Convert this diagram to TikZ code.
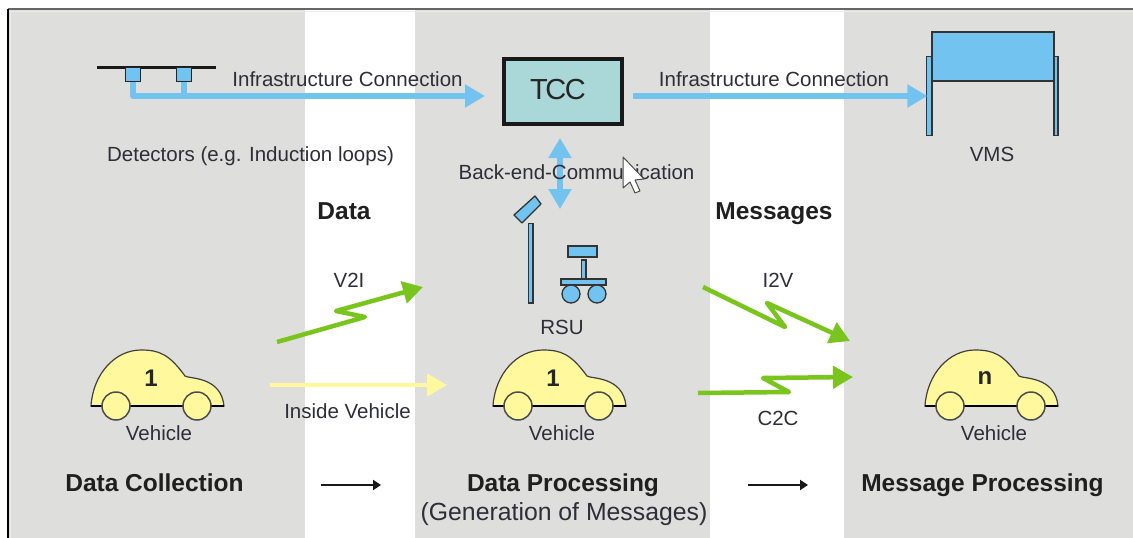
\documentclass[tikz,border=0pt]{standalone}
\usepackage{fontspec}
\setmainfont{Liberation Sans}
\usetikzlibrary{arrows.meta}
\definecolor{bandgrey}{HTML}{DEDEDD}
\definecolor{netblue}{HTML}{72C3F0}
\definecolor{radiogreen}{HTML}{7AC41E}
\definecolor{cartone}{HTML}{FFF89C}
\definecolor{tealbox}{HTML}{AAD8D8}
\definecolor{inktext}{HTML}{2E2E38}
\newcommand{\fsz}[1]{\fontsize{#1}{#1}\selectfont}
\tikzset{
  band/.style={fill=bandgrey,draw=none},
  lbl/.style={anchor=base,inner sep=0pt,outer sep=0pt,text=inktext,font=\fsz{20.5}},
  head/.style={anchor=base,inner sep=0pt,outer sep=0pt,text=black!88,font=\fsz{24.5}\bfseries},
  netline/.style={draw=netblue,line width=5.5pt,line join=round},
  netarrow/.style={netline,-{Triangle[length=20pt,width=22pt]}},
  radio/.style={draw=radiogreen,line width=4.5pt,line join=round,-{Triangle[length=20pt,width=22pt]}},
  flowarrow/.style={draw=black!90,line width=2.6pt,-{Triangle[length=8pt,width=10pt]}},
  icon/.style={fill=netblue,draw=black!80,line width=1.3pt},
  sensorbox/.style={rectangle,fill=netblue,draw=black!85,line width=1.5pt,inner sep=0pt,outer sep=0pt,minimum width=15pt,minimum height=14pt},
  pics/carshape/.style={code={
    \path[fill=cartone,draw=black!75,line width=1.2pt]
      (0,0) .. controls (2,-32) and (24,-56) .. (50,-56)
      .. controls (68,-56) and (78,-52) .. (94,-30)
      .. controls (98,-27) and (130,-30) .. (133,0) -- cycle;
    \draw[black,line width=1.5pt] (0,0) -- (133,0);
    \path[fill=cartone,draw=black!70,line width=1.5pt] (25,0) circle[radius=14pt];
    \path[fill=cartone,draw=black!70,line width=1.5pt] (106,0) circle[radius=14pt];
    \node[inner sep=0pt,text=black!85,font=\fsz{24}\bfseries] (-num) at (60,-28) {#1};
  }}
}
\begin{document}
\begin{tikzpicture}[x=1pt,y=-1pt]
\useasboundingbox (0,0) rectangle (1133,538);
% bands and frame
\path[band] (9,10) rectangle (305,538);
\path[band] (415,10) rectangle (710,538);
\path[band] (844,10) rectangle (1133,538);
\draw[draw=white!92!black,line width=1.5pt] (10.5,538) -- (10.5,11.5) -- (1133,11.5);
\draw[draw=black!60,line width=1.6pt] (8,9) -- (1133,9);
\draw[draw=black,line width=2pt] (8,9) -- (8,538);

% main nodes
\node[rectangle,fill=tealbox,draw=black!90,line width=4pt,inner sep=0pt,outer sep=0pt,
      minimum width=118pt,minimum height=65pt] (TCC) at (563,91.5) {};
\node[inner sep=0pt,text=black!85,font=\fsz{29}] (TCCt) at (558,90) {T\kern-2.5pt C\kern-1.5pt C};

% detectors
\draw[draw=black!90,line width=2.6pt] (97,67.5) -- (216,67.5);
\node[sensorbox,anchor=north] (detA) at (133,67.5) {};
\node[sensorbox,anchor=north] (detB) at (184,67.5) {};
\coordinate (trunkA) at (133,96);
\coordinate (trunkB) at (184,96);
\draw[netline] (detB.south) -- (trunkB);
\draw[netarrow,shorten >=19pt] (detA.south) -- (trunkA) -- ([yshift=-4.5pt]TCC.west);

% VMS
\path[icon] (932,32) rectangle (1054,81);
\node[rectangle,icon,inner sep=0pt,outer sep=0pt,minimum width=5.5pt,minimum height=79pt] (vmsL) at (929.2,96) {};
\node[rectangle,icon,inner sep=0pt,outer sep=0pt,minimum width=4pt,minimum height=79pt] (vmsR) at (1056,96) {};
\draw[netline,-{Triangle[length=20pt,width=22pt]},shorten <=11pt,shorten >=-1pt] ([yshift=-4.5pt]TCC.east) -- (vmsL.west);

% back-end link
\coordinate (rsuTop) at (560,209);
\coordinate (tccLow) at (560,138);
\draw[netline,{Triangle[length=20pt,width=22pt]}-{Triangle[length=20pt,width=22pt]}] (tccLow) -- (rsuTop);

% RSU icons
\path[icon] (528.5,223.5) rectangle (533,303);
\path[icon,line join=round] (514,215) -- (535,196) -- (541,204) -- (522,223) -- cycle;
\path[icon] (568,246) rectangle (597,257);
\path[icon] (581.5,260) rectangle (586,279);
\path[icon] (561,279) rectangle (606,285);
\path[icon] (571,294) circle[radius=9pt];
\path[icon] (597,294) circle[radius=9pt];

% cars
\pic (carA) at (91,406) {carshape={1}};
\pic (carB) at (493,406) {carshape={1}};
\pic (carC) at (925,406) {carshape={n}};

% radio links
\coordinate (vA) at (277,342); \coordinate (vB) at (365,317); \coordinate (vC) at (336,311); \coordinate (vD) at (423,287);
\draw[radio] (vA) -- (vB) -- (vC) -- (vD);
\coordinate (iA) at (703,287); \coordinate (iB) at (785,327); \coordinate (iC) at (767,303); \coordinate (iD) at (850,341);
\draw[radio] (iA) -- (iB) -- (iC) -- (iD);
\coordinate (cA) at (698,393); \coordinate (cB) at (789,392); \coordinate (cC) at (763,378); \coordinate (cD) at (853,377);
\draw[radio] (cA) -- (cB) -- (cC) -- (cD);
\coordinate (inA) at (270,385); \coordinate (inB) at (447,385);
\draw[draw=cartone,line width=4.5pt,-{Triangle[length=20pt,width=22pt]}] (inA) -- (inB);

% flow arrows
\coordinate (fA) at (321,485); \coordinate (fB) at (381,485);
\coordinate (fC) at (748,485); \coordinate (fD) at (808,485);
\draw[flowarrow] (fA) -- (fB);
\draw[flowarrow] (fC) -- (fD);

% labels
\node[lbl] (t1) at (347.5,86) {Infrastructure Connection};
\node[lbl] (t2) at (774,86) {Infrastructure Connection};
\node[lbl] (t3) at (250.5,161) {Detectors (e.g. Induction loops)};
\node[lbl] (t4) at (992,161) {VMS};
\node[lbl] (t5) at (576.5,179) {Back-end-Communication};
\node[lbl] (t6) at (562,334) {RSU};
\node[lbl] (t7) at (349,287) {V2I};
\node[lbl] (t8) at (778,287) {I2V};
\node[lbl] (t9) at (347.5,418) {Inside Vehicle};
\node[lbl] (t10) at (778,425) {C2C};
\node[lbl] (t11) at (159,440) {Vehicle};
\node[lbl] (t12) at (562,440) {Vehicle};
\node[lbl] (t13) at (994,440) {Vehicle};
\node[head] (h1) at (344,219) {Data};
\node[head] (h2) at (774,219) {Messages};
\node[head] (h3) at (154.5,491) {Data Collection};
\node[head] (h4) at (563,491) {Data Processing};
\node[head] (h5) at (982.5,491) {Message Processing};
\node[lbl,font=\fsz{24.8}] (h6) at (564,520) {(Generation of Messages)};

% mouse cursor
\path[fill=white,draw=black!70,line width=1pt,line join=round]
  (623,157) -- (644,179) -- (635,180) -- (640,191) -- (635,193) -- (630,182) -- (623,188) -- cycle;
\end{tikzpicture}
\end{document}
